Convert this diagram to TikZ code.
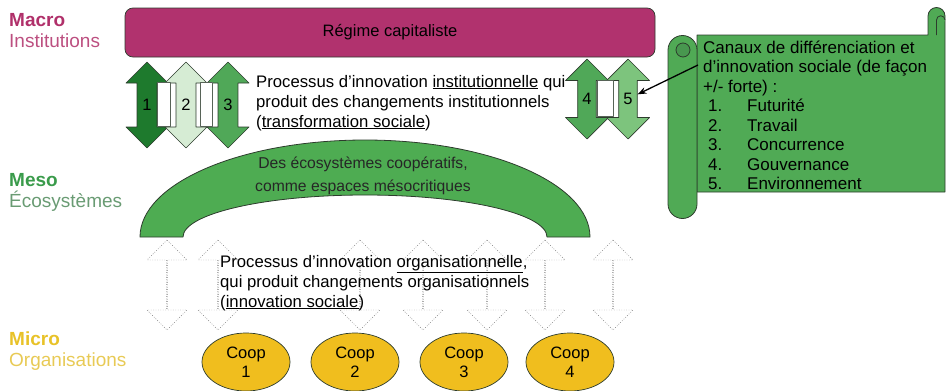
\documentclass[tikz,border=0pt]{standalone}
\usepackage{fontspec}
\setmainfont{Liberation Sans}
\usetikzlibrary{shapes.arrows,shapes.geometric,arrows.meta}
\definecolor{regimefill}{RGB}{177,50,110}
\definecolor{macrocol}{RGB}{176,48,106}
\definecolor{mesocol}{RGB}{58,155,75}
\definecolor{ecocol}{RGB}{105,155,115}
\definecolor{microcol}{RGB}{232,194,40}
\definecolor{orgcol}{RGB}{232,202,85}
\definecolor{gA}{RGB}{30,122,45}
\definecolor{gB}{RGB}{214,236,212}
\definecolor{gC}{RGB}{80,168,88}
\definecolor{gD}{RGB}{125,196,125}
\definecolor{archfill}{RGB}{78,172,82}
\definecolor{scrollfill}{RGB}{80,170,85}
\definecolor{coopfill}{RGB}{240,190,30}
\definecolor{edge}{RGB}{45,60,45}
\begin{document}
\begin{tikzpicture}[x=1pt,y=-1pt,>=Stealth,line join=round,
	lbl/.style={align=left,inner sep=0pt,anchor=north west,font=\fontsize{19}{21}\selectfont},
	txt/.style={align=left,inner sep=0pt,anchor=north west,font=\fontsize{16.7}{20}\selectfont},
	dbl/.style={double arrow,shape border rotate=90,inner sep=0pt,draw=edge,line width=.7pt,font=\fontsize{16.5}{18}\selectfont},
	gap/.style={draw=edge!80,fill=white,line width=.6pt,inner sep=0pt},
	ghost/.style={double arrow,shape border rotate=90,draw=black!50,dash pattern=on .8pt off 1.6pt,fill=white,minimum height=90pt,minimum width=40pt,double arrow head extend=9pt,inner sep=0pt},
	coop/.style={ellipse,draw=edge,fill=coopfill,line width=.7pt,minimum width=88pt,minimum height=58pt,inner sep=0pt,align=center,font=\fontsize{16.5}{19}\selectfont},
	scroll/.style={draw=edge,fill=scrollfill,line width=.8pt}]
	\useasboundingbox (0,0) rectangle (946,391);
	% levels
	\node[lbl] (macro) at (9,13.6) {\textcolor{macrocol}{\bfseries Macro}\\\textcolor{macrocol!85}{Institutions}};
	\node[lbl] (meso) at (9,173.6) {\textcolor{mesocol}{\bfseries Meso}\\\textcolor{ecocol}{Écosystèmes}};
	\node[lbl] (micro) at (9,331.6) {\textcolor{microcol}{\bfseries Micro}\\\textcolor{orgcol}{Organisations}};
	% macro
	\node[draw=edge,fill=regimefill,rounded corners=8pt,line width=.7pt,minimum width=530pt,minimum height=49pt,font=\fontsize{16.5}{18}\selectfont] (regime) at (390,32.5) {Régime capitaliste};
	\foreach \x/\c [count=\i] in {147/gA,186/gB,228/gC}
		\node[dbl,fill=\c,minimum width=42pt,double arrow head extend=5.5pt,minimum height=86pt] (a\i) at (\x,105) {\i};
	\foreach \x/\c [count=\i from 4] in {587/gC,628/gD}
		\node[dbl,fill=\c,minimum width=43pt,double arrow head extend=6.5pt,minimum height=80pt] (a\i) at (\x,99) {\i};
	\node[gap,minimum width=13.5pt,minimum height=44pt] (gap1) at (163.75,104) {};
	\node[gap,minimum width=12.5pt,minimum height=44pt] (gap2) at (206.25,104) {};
	\node[gap,minimum width=16pt,minimum height=36pt] (gap3) at (605,98) {};
	\node[txt] (inst) at (256,74.8) {Processus d’innovation \underline{institutionnelle} qui\\produit des changements institutionnels\\(\underline{transformation sociale})};
	% meso
	\draw[scroll,fill=archfill] (140,237) arc[start angle=180,end angle=360,x radius=225,y radius=97]
		-- (547,237) arc[start angle=360,end angle=180,x radius=182,y radius=42] -- cycle;
	\node[align=center,inner sep=0pt,font=\fontsize{15.7}{23}\selectfont,text=black!85] (eco) at (363,176) {Des écosystèmes coopératifs,\\comme espaces mésocritiques};
	% micro
	\foreach \x [count=\i] in {167,218,360,423,487,545,613}
		\node[ghost] (g\i) at (\x,285) {};
	\node[txt] (orga) at (220,254.8) {Processus d’innovation \underline{organisationnelle},\\qui produit changements organisationnels\\(\underline{innovation sociale})};
	\foreach \x [count=\i] in {246,355,464,570}
		\node[coop] (c\i) at (\x,362) {Coop\\\i};
	% scroll
	\draw[scroll] (697,192) -- (945,192) -- (945,16) arc(0:-180:8.5) -- (928,35) -- (697,35) -- cycle;
	\draw[scroll] (936.5,35) -- (936.5,20) arc(180:360:4.25);
	\draw[scroll] (668,50) arc(180:360:14.5) -- (697,204) arc(0:180:14.5) -- cycle;
	\draw[scroll,fill=gC!90!black] (683,50) circle (7);
	\node[txt,font=\fontsize{17}{19.5}\selectfont] (canaux) at (703,40.6) {Canaux de différenciation et\\d’innovation sociale (de façon\\+/- forte) :\\
		\hspace*{5pt}\makebox[39pt][l]{1.}Futurité\\\hspace*{5pt}\makebox[39pt][l]{2.}Travail\\\hspace*{5pt}\makebox[39pt][l]{3.}Concurrence\\
		\hspace*{5pt}\makebox[39pt][l]{4.}Gouvernance\\\hspace*{5pt}\makebox[39pt][l]{5.}Environnement};
	\coordinate (ptr) at (698,65);
	\draw[->,line width=1.3pt] (ptr) -- (a5);
\end{tikzpicture}
\end{document}
